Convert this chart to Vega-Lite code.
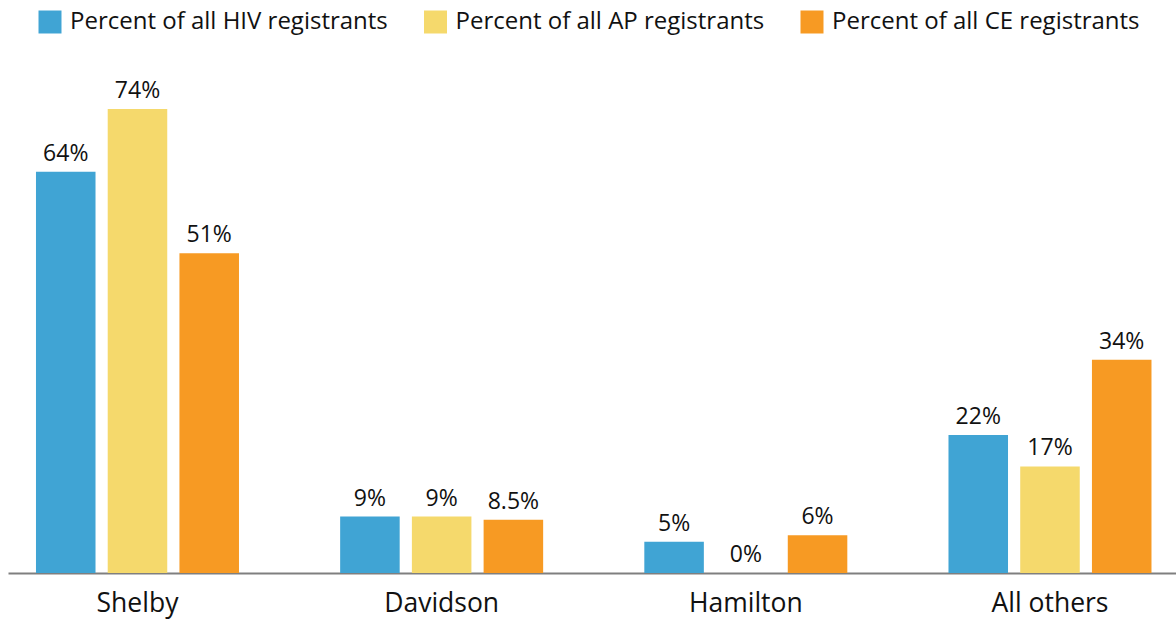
{
  "$schema": "https://vega.github.io/schema/vega-lite/v6.json",
  "width": 1168,
  "height": 513,
  "autosize": {"type": "none"},
  "padding": {"left": 8, "top": 60, "right": 0, "bottom": 47},
  "config": {
    "view": {"stroke": null},
    "font": "Open Sans",
    "text": {"font": "Open Sans"}
  },
  "data": {
    "values": [
      {"county": "Shelby", "series": "Percent of all HIV registrants", "value": 64, "label": "64%"},
      {"county": "Shelby", "series": "Percent of all AP registrants", "value": 74, "label": "74%"},
      {"county": "Shelby", "series": "Percent of all CE registrants", "value": 51, "label": "51%"},
      {"county": "Davidson", "series": "Percent of all HIV registrants", "value": 9, "label": "9%"},
      {"county": "Davidson", "series": "Percent of all AP registrants", "value": 9, "label": "9%"},
      {"county": "Davidson", "series": "Percent of all CE registrants", "value": 8.5, "label": "8.5%"},
      {"county": "Hamilton", "series": "Percent of all HIV registrants", "value": 5, "label": "5%"},
      {"county": "Hamilton", "series": "Percent of all AP registrants", "value": 0, "label": "0%"},
      {"county": "Hamilton", "series": "Percent of all CE registrants", "value": 6, "label": "6%"},
      {"county": "All others", "series": "Percent of all HIV registrants", "value": 22, "label": "22%"},
      {"county": "All others", "series": "Percent of all AP registrants", "value": 17, "label": "17%"},
      {"county": "All others", "series": "Percent of all CE registrants", "value": 34, "label": "34%"}
    ]
  },
  "encoding": {
    "x": {
      "field": "county",
      "type": "nominal",
      "sort": ["Shelby", "Davidson", "Hamilton", "All others"],
      "scale": {"paddingInner": 0.3326, "paddingOuter": 0.0863, "align": 0.533},
      "axis": {
        "title": null,
        "labelAngle": 0,
        "ticks": false,
        "labelFont": "Open Sans",
        "labelFontSize": 26.5,
        "labelColor": "#111111",
        "labelPadding": 17,
        "domainColor": "#000000",
        "domainOpacity": 0.5,
        "domainWidth": 2
      }
    },
    "xOffset": {
      "field": "series",
      "type": "nominal",
      "sort": ["Percent of all HIV registrants", "Percent of all AP registrants", "Percent of all CE registrants"],
      "scale": {"paddingInner": 0.17, "paddingOuter": 0}
    },
    "y": {
      "field": "value",
      "type": "quantitative",
      "scale": {"domain": [0, 81.8], "nice": false},
      "axis": null
    }
  },
  "layer": [
    {
      "mark": {"type": "bar"},
      "encoding": {
        "color": {
          "field": "series",
          "type": "nominal",
          "sort": ["Percent of all HIV registrants", "Percent of all AP registrants", "Percent of all CE registrants"],
          "scale": {
            "domain": ["Percent of all HIV registrants", "Percent of all AP registrants", "Percent of all CE registrants"],
            "range": ["#40a4d4", "#f5d96c", "#f79a23"]
          },
          "legend": {
            "title": null,
            "orient": "none",
            "direction": "horizontal",
            "legendX": 30,
            "legendY": -50,
            "symbolType": "square",
            "symbolSize": 529,
            "symbolStrokeWidth": 0,
            "symbolOpacity": 1,
            "labelFont": "Open Sans",
            "labelFontSize": 24,
            "labelColor": "#111111",
            "labelOffset": 8,
            "columnPadding": 35.5,
            "labelLimit": 500
          }
        }
      }
    },
    {
      "mark": {"type": "text", "baseline": "alphabetic", "dy": -11, "fontSize": 23, "color": "#111111", "font": "Open Sans"},
      "encoding": {
        "text": {"field": "label", "type": "nominal"}
      }
    }
  ]
}
